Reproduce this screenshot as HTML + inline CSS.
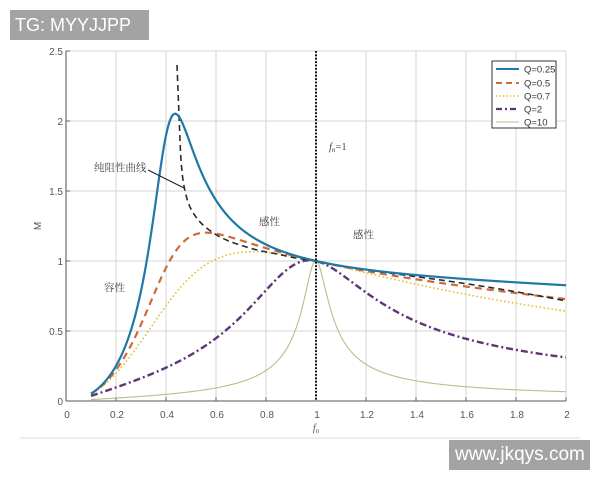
<!DOCTYPE html>
<html>
<head>
<meta charset="utf-8">
<style>
  html,body{margin:0;padding:0;background:#fff;}
  body{width:600px;height:480px;position:relative;overflow:hidden;}
  .wm{position:absolute;background:#a3a3a3;color:#fff;font-family:"Liberation Sans",sans-serif;}
  svg{position:absolute;left:0;top:0;}
  .tick{font-family:"Liberation Sans",sans-serif;font-size:10px;fill:#555;}
  .cn{font-family:"Liberation Serif","Noto Serif CJK SC",serif;font-size:10.5px;fill:#444;}
  .lg{font-family:"Liberation Sans",sans-serif;font-size:9.5px;fill:#333;}
</style>
</head>
<body>
<svg width="600" height="480" viewBox="0 0 600 480" xmlns="http://www.w3.org/2000/svg">
  <defs>
    <clipPath id="pc"><rect x="66" y="51" width="500" height="350"/></clipPath>
  </defs>
  <!-- grid -->
  <g stroke="#d6d6d6" stroke-width="1">
    <line x1="116" y1="51" x2="116" y2="401"/>
    <line x1="166" y1="51" x2="166" y2="401"/>
    <line x1="216" y1="51" x2="216" y2="401"/>
    <line x1="266" y1="51" x2="266" y2="401"/>
    <line x1="316" y1="51" x2="316" y2="401"/>
    <line x1="366" y1="51" x2="366" y2="401"/>
    <line x1="416" y1="51" x2="416" y2="401"/>
    <line x1="466" y1="51" x2="466" y2="401"/>
    <line x1="516" y1="51" x2="516" y2="401"/>
    <line x1="566" y1="51" x2="566" y2="401"/>
    <line x1="66" y1="51" x2="566" y2="51"/>
    <line x1="66" y1="121" x2="566" y2="121"/>
    <line x1="66" y1="191" x2="566" y2="191"/>
    <line x1="66" y1="261" x2="566" y2="261"/>
    <line x1="66" y1="331" x2="566" y2="331"/>
  </g>
  <!-- axes -->
  <g stroke="#777" stroke-width="1.3">
    <line x1="66" y1="51" x2="66" y2="401"/>
    <line x1="66" y1="401" x2="566" y2="401"/>
  </g>
  <g stroke="#666" stroke-width="1">
    <line x1="66" y1="51" x2="70" y2="51"/>
    <line x1="66" y1="121" x2="70" y2="121"/>
    <line x1="66" y1="191" x2="70" y2="191"/>
    <line x1="66" y1="261" x2="70" y2="261"/>
    <line x1="66" y1="331" x2="70" y2="331"/>
    <line x1="116" y1="401" x2="116" y2="397"/>
    <line x1="166" y1="401" x2="166" y2="397"/>
    <line x1="216" y1="401" x2="216" y2="397"/>
    <line x1="266" y1="401" x2="266" y2="397"/>
    <line x1="366" y1="401" x2="366" y2="397"/>
    <line x1="416" y1="401" x2="416" y2="397"/>
    <line x1="466" y1="401" x2="466" y2="397"/>
    <line x1="516" y1="401" x2="516" y2="397"/>
    <line x1="566" y1="401" x2="566" y2="397"/>
  </g>
  <!-- y tick labels -->
  <g class="tick" text-anchor="end">
    <text x="63" y="405">0</text>
    <text x="63" y="335">0.5</text>
    <text x="63" y="265">1</text>
    <text x="63" y="195">1.5</text>
    <text x="63" y="125">2</text>
    <text x="63" y="55">2.5</text>
  </g>
  <!-- x tick labels -->
  <g class="tick" text-anchor="middle">
    <text x="67" y="418">0</text>
    <text x="117" y="418">0.2</text>
    <text x="167" y="418">0.4</text>
    <text x="217" y="418">0.6</text>
    <text x="267" y="418">0.8</text>
    <text x="317" y="418">1</text>
    <text x="367" y="418">1.2</text>
    <text x="417" y="418">1.4</text>
    <text x="467" y="418">1.6</text>
    <text x="517" y="418">1.8</text>
    <text x="567" y="418">2</text>
  </g>
  <text x="316" y="431" text-anchor="middle" font-family="Liberation Serif,serif" font-style="italic" font-size="10" fill="#555">f<tspan font-size="7" dy="2">n</tspan></text>
  <text transform="translate(41,226) rotate(-90)" text-anchor="middle" font-family="Liberation Sans,sans-serif" font-size="10" fill="#555">M</text>

  <!-- curves -->
  <g clip-path="url(#pc)" fill="none">
    <path id="c10" stroke="#bcbd87" stroke-width="1.1"/>
    <path id="c2" stroke="#5e3576" stroke-width="2.4" stroke-dasharray="7,3,2,3"/>
    <path id="c07" stroke="#e2bf3a" stroke-width="1.6" stroke-dasharray="1.6,2.4"/>
    <path id="c05" stroke="#cd6a3a" stroke-width="2.2" stroke-dasharray="7,5"/>
    <path id="cb" stroke="#2b2b2b" stroke-width="1.6" stroke-dasharray="6,4"/>
    <path id="c025" stroke="#1f78a6" stroke-width="2.2"/>
    <line x1="316" y1="51" x2="316" y2="401" stroke="#111" stroke-width="2" stroke-dasharray="1.8,1.6"/>
  </g>

  <!-- annotations -->
  <text class="cn" x="94" y="171">纯阻性曲线</text>
  <line x1="148" y1="170" x2="184" y2="188" stroke="#222" stroke-width="1.1"/>
  <text class="cn" x="259" y="225">感性</text>
  <text class="cn" x="353" y="238">感性</text>
  <text class="cn" x="104" y="291">容性</text>
  <text x="329" y="150" font-family="Liberation Serif,serif" font-size="10.5" fill="#444"><tspan font-style="italic">f</tspan><tspan font-size="7" dy="2" font-style="italic">n</tspan><tspan dy="-2">=1</tspan></text>

  <!-- legend -->
  <rect x="492" y="61" width="64" height="67" fill="#fff" stroke="#333" stroke-width="1"/>
  <line x1="496" y1="69" x2="519" y2="69" stroke="#1f78a6" stroke-width="2"/>
  <line x1="496" y1="83" x2="519" y2="83" stroke="#cd6a3a" stroke-width="2" stroke-dasharray="6,4"/>
  <line x1="496" y1="96" x2="519" y2="96" stroke="#e2bf3a" stroke-width="1.5" stroke-dasharray="1.5,2"/>
  <line x1="496" y1="109" x2="519" y2="109" stroke="#5e3576" stroke-width="2.2" stroke-dasharray="6,3,2,3"/>
  <line x1="496" y1="122" x2="519" y2="122" stroke="#bcbd87" stroke-width="1"/>
  <text class="lg" x="524" y="72.5">Q=0.25</text>
  <text class="lg" x="524" y="86.5">Q=0.5</text>
  <text class="lg" x="524" y="99.5">Q=0.7</text>
  <text class="lg" x="524" y="112.5">Q=2</text>
  <text class="lg" x="524" y="125.5">Q=10</text>

  <!-- separator -->
  <line x1="20" y1="438" x2="580" y2="438" stroke="#dcdcdc" stroke-width="1"/>
</svg>

<div class="wm" style="left:10px;top:10px;width:139px;height:30px;font-size:18px;line-height:30px;text-indent:5px;">TG: MYYJJPP</div>
<div class="wm" style="left:449px;top:440px;width:141px;height:30px;font-size:19px;line-height:30px;text-indent:6px;">www.jkqys.com</div>

<script>
(function(){
  var k=5;
  function M(f,Q){var a=1+1/k-1/(k*f*f);var b=Q*(f-1/f);return 1/Math.sqrt(a*a+b*b);}
  function X(f){return 66+250*f;}
  function Y(m){return 401-140*m;}
  function curve(Q,f0,f1){
    var d='',first=true;
    for(var f=f0;f<=f1+1e-9;f+=0.002){
      var m=M(f,Q); if(m>3)m=3;
      d+=(first?'M':'L')+X(f).toFixed(2)+','+Y(m).toFixed(2);
      first=false;
    }
    return d;
  }
  document.getElementById('c025').setAttribute('d',curve(0.25,0.1,2));
  document.getElementById('c05').setAttribute('d',curve(0.5,0.1,2));
  document.getElementById('c07').setAttribute('d',curve(0.7,0.1,2));
  document.getElementById('c2').setAttribute('d',curve(2,0.1,2));
  document.getElementById('c10').setAttribute('d',curve(10,0.1,2));
  var pts=[[177,65],[178,90],[179,115],[180,140],[181,160],[183,180],[186,195],[190,207],[196,217],[203,225],[212,232],[222,238],[237,244],[257,250],[277,254],[296,258],[316,261]];
  var d='M'+pts[0][0]+','+pts[0][1];
  for(var i=0;i<pts.length-1;i++){
    var p0=pts[i>0?i-1:i],p1=pts[i],p2=pts[i+1],p3=pts[i+2<pts.length?i+2:i+1];
    var c1x=p1[0]+(p2[0]-p0[0])/6,c1y=p1[1]+(p2[1]-p0[1])/6;
    var c2x=p2[0]-(p3[0]-p1[0])/6,c2y=p2[1]-(p3[1]-p1[1])/6;
    d+='C'+c1x.toFixed(2)+','+c1y.toFixed(2)+' '+c2x.toFixed(2)+','+c2y.toFixed(2)+' '+p2[0]+','+p2[1];
  }
  for(var f=1.002;f<=2.0001;f+=0.002){
    var q=0.25+0.28*(f-1);
    d+='L'+X(f).toFixed(2)+','+Y(M(f,q)).toFixed(2);
  }
  document.getElementById('cb').setAttribute('d',d);
})();
</script>
</body>
</html>
